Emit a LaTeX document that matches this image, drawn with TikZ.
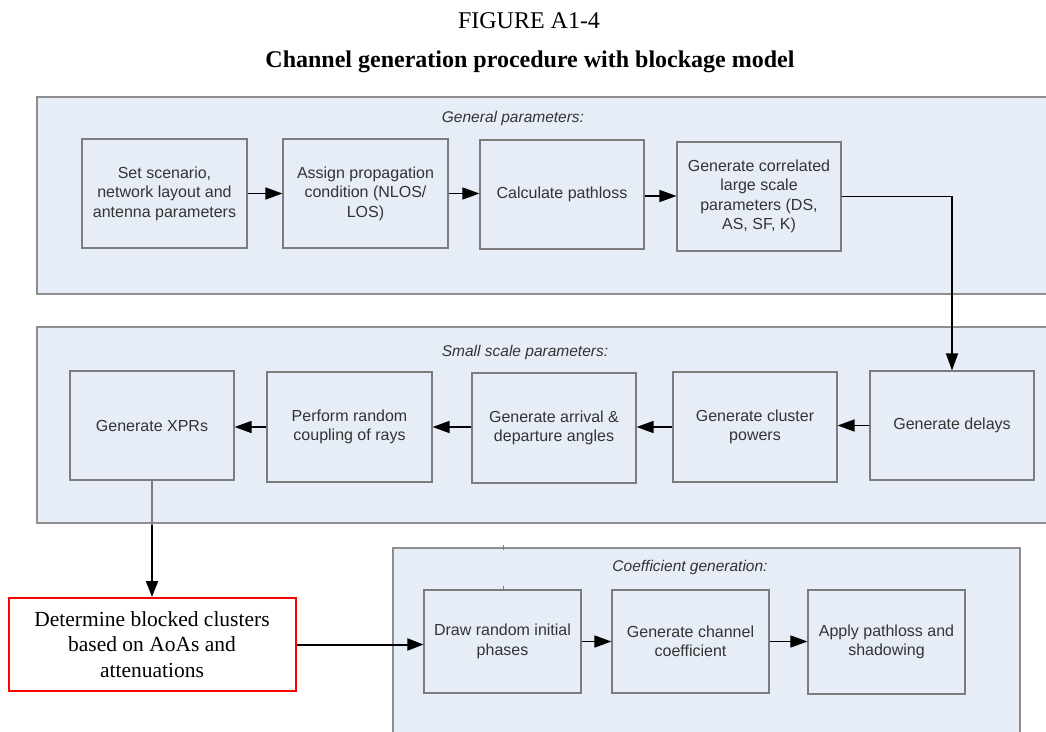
\documentclass[tikz,border=0pt]{standalone}
\usepackage{fontspec}
\setmainfont{Liberation Serif}
\setsansfont{Liberation Sans}
\usetikzlibrary{arrows.meta}
\definecolor{panelfill}{HTML}{E7EDF7}
\definecolor{panelline}{HTML}{8E8E8E}
\definecolor{boxline}{HTML}{7C7C7C}
\definecolor{boxtext}{HTML}{333333}
\begin{document}
\begin{tikzpicture}[x=1pt,y=-1pt,
  panel/.style={draw=panelline,line width=1.1pt,fill=panelfill},
  plabel/.style={font=\sffamily\itshape\fontsize{15.5}{18}\selectfont,text=boxtext,inner sep=0pt},
  stepbox/.style={draw=boxline,line width=1.1pt,fill=panelfill,align=center,
    font=\sffamily\fontsize{16}{19.5}\selectfont,text=boxtext,inner sep=2pt},
  flow/.style={draw=black,line width=1.4pt,-{Triangle[length=17pt,width=12pt]}},
  bold flow/.style={draw=black,line width=2pt,-{Triangle[length=16pt,width=12pt]}},
  redbox/.style={draw=red,line width=2pt,fill=white,align=center,
    font=\fontsize{21.5}{25.5}\selectfont,inner sep=2pt}]
\useasboundingbox (0,0) rectangle (1046,731);
\fill[white] (0,0) rectangle (1046,731);

% headings
\node[anchor=base,font=\fontsize{24}{28}\selectfont,inner sep=0pt] (fig) at (529,28) {FIGURE A1-4};
\node[anchor=base,font=\bfseries\fontsize{24}{28}\selectfont,inner sep=0pt] (ttl) at (530,67) {Channel generation procedure with blockage model};

% group panels
\draw[panel] (37,97) rectangle (1052,294);
\draw[panel] (37,327) rectangle (1052,523);
\coordinate (p2low) at (37,525);
\draw[panel] (393,548) rectangle (1020,760);
\node[plabel] (lab1) at (513,118) {General parameters:};
\node[plabel] (lab2) at (525,352) {Small scale parameters:};
\node[plabel] (lab3) at (690,567) {Coefficient generation:};

% general parameters
\node[stepbox,minimum width=165pt,minimum height=109pt] (b1) at (164.5,193.5) {Set scenario,\\network layout and\\antenna parameters};
\node[stepbox,minimum width=165pt,minimum height=109pt] (b2) at (365.5,193.5) {Assign propagation\\condition (NLOS/\\LOS)};
\node[stepbox,minimum width=164pt,minimum height=109pt] (b3) at (562,194.5) {Calculate pathloss};
\node[stepbox,minimum width=164pt,minimum height=109pt] (b4) at (759,196.5) {Generate correlated\\large scale\\parameters (DS,\\AS, SF, K)};

% small scale parameters
\node[stepbox,minimum width=164pt,minimum height=109pt] (x1) at (152,425.5) {Generate XPRs};
\node[stepbox,minimum width=165pt,minimum height=110pt] (x2) at (349.5,427) {Perform random\\coupling of rays};
\node[stepbox,minimum width=164pt,minimum height=110pt] (x3) at (554,428) {Generate arrival \&\\departure angles};
\node[stepbox,minimum width=164pt,minimum height=110pt] (x4) at (755,427) {Generate cluster\\powers};
\node[stepbox,minimum width=164pt,minimum height=109pt] (x5) at (952,425.5) {Generate delays};

% coefficient generation
\node[stepbox,minimum width=157pt,minimum height=103pt] (d1) at (502.5,641.5) {Draw random initial\\phases};
\node[stepbox,minimum width=157pt,minimum height=103pt] (d2) at (690.5,641.5) {Generate channel\\coefficient};
\node[stepbox,minimum width=157pt,minimum height=104pt] (d3) at (886.5,642) {Apply pathloss and\\shadowing};

% blockage step
\node[redbox,minimum width=287pt,minimum height=93pt] (blk) at (152,644.5) {Determine blocked clusters\\based on AoAs and\\attenuations};

% small marks above the first coefficient box
\coordinate (t1a) at (503,545); \coordinate (t1b) at (503,550);
\coordinate (t2a) at (503,586); \coordinate (t2b) at (503,590);
\draw[boxline,line width=1pt] (t1a) -- (t1b);
\draw[boxline,line width=1pt] (t2a) -- (t2b);

% connectors
\draw[flow] (b1.east) -- (b1.east -| b2.west);
\draw[flow] (b2.east) -- (b2.east -| b3.west);
\draw[flow] ([yshift=-1.5pt]b3.east) -- ([yshift=-1.5pt]b3.east -| b4.west);
\draw[flow] (b4.east) -| (x5.north);
\draw[flow] (x5.west) -- (x5.west -| x4.east);
\draw[flow] (x4.west) -- (x4.west -| x3.east);
\draw[flow] ([yshift=1pt]x3.west) -- ([yshift=1pt]x3.west -| x2.east);
\draw[flow] (x2.west) -- (x2.west -| x1.east);
\draw[boxline,line width=1.3pt] (x1.south) -- (x1.south |- p2low);
\draw[bold flow] (x1.south |- p2low) -- (x1.south |- blk.north);
\draw[bold flow] (blk.east) -- (blk.east -| d1.west);
\draw[flow] (d1.east) -- (d1.east -| d2.west);
\draw[flow] (d2.east) -- (d2.east -| d3.west);
\end{tikzpicture}
\end{document}
